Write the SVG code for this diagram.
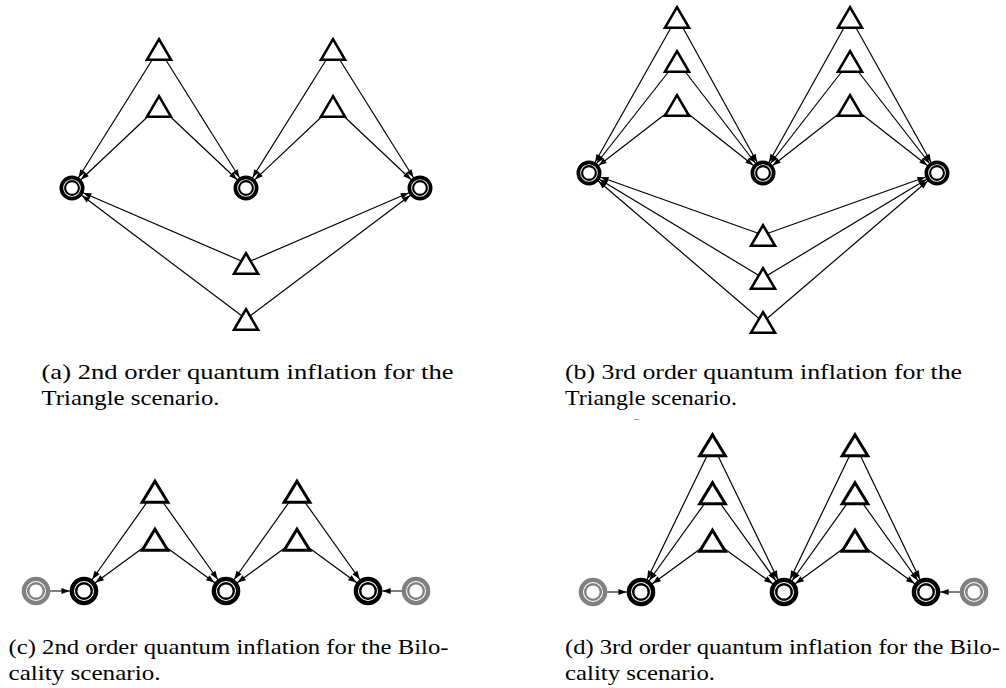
<svg xmlns="http://www.w3.org/2000/svg" width="1006" height="688" viewBox="0 0 1006 688">
<style>
  .edge{stroke:#000;stroke-width:1.2;fill:none}
  .es{marker-end:url(#arr-s)}
  .el{marker-end:url(#arr-l)}
  .cap{font-family:"Liberation Serif","DejaVu Serif",serif;font-size:22px;fill:#000}
  .blk{color:#000}
  .gry{color:#808080}
</style>
<defs>
  <!-- arrowheads stop at the outer edge of the target ring (line ends at ring centre) -->
  <marker id="arr-s" markerUnits="userSpaceOnUse" markerWidth="9" markerHeight="6" refX="20.3" refY="3" orient="auto" overflow="visible">
    <path d="M0,0.1 L7.8,3 L0,5.9 Z" fill="#000"/>
  </marker>
  <marker id="arr-l" markerUnits="userSpaceOnUse" markerWidth="9" markerHeight="7" refX="22.6" refY="3" orient="auto" overflow="visible">
    <path d="M0,-0.1 L8.3,3 L0,6.1 Z" fill="#000"/>
  </marker>
  <path id="tri-s" d="M0,-9.8 L12,10.7 L-12,10.7 Z" fill="#fff" stroke="#000" stroke-width="2.6"/>
  <path id="tri-l" d="M0,-9.8 L12.8,11.2 L-12.8,11.2 Z" fill="#fff" stroke="#000" stroke-width="3"/>
  <g id="dc-s">
    <circle r="10.65" fill="#fff" stroke="currentColor" stroke-width="3.7"/>
    <circle r="6.9" fill="none" stroke="currentColor" stroke-width="2.1"/>
  </g>
  <g id="dc-l">
    <circle r="12.15" fill="#fff" stroke="currentColor" stroke-width="4.3"/>
    <circle r="7.8" fill="none" stroke="currentColor" stroke-width="2.4"/>
  </g>
</defs>

<rect width="1006" height="688" fill="#fff"/>

<!-- connectors -->
<g id="connectors">
  <!-- (a) -->
  <line class="edge es" x1="159" y1="49" x2="72" y2="188"/>
  <line class="edge es" x1="159" y1="49" x2="246" y2="188"/>
  <line class="edge es" x1="159" y1="106" x2="72" y2="188"/>
  <line class="edge es" x1="159" y1="106" x2="246" y2="188"/>
  <line class="edge es" x1="333" y1="49" x2="246" y2="188"/>
  <line class="edge es" x1="333" y1="49" x2="420" y2="188"/>
  <line class="edge es" x1="333" y1="106" x2="246" y2="188"/>
  <line class="edge es" x1="333" y1="106" x2="420" y2="188"/>
  <line class="edge es" x1="246" y1="263" x2="72" y2="188"/>
  <line class="edge es" x1="246" y1="263" x2="420" y2="188"/>
  <line class="edge es" x1="246" y1="319" x2="72" y2="188"/>
  <line class="edge es" x1="246" y1="319" x2="420" y2="188"/>
  <!-- (b) -->
  <line class="edge es" x1="677" y1="17" x2="589" y2="173"/>
  <line class="edge es" x1="677" y1="17" x2="763" y2="173"/>
  <line class="edge es" x1="677" y1="61" x2="589" y2="173"/>
  <line class="edge es" x1="677" y1="61" x2="763" y2="173"/>
  <line class="edge es" x1="677" y1="105" x2="589" y2="173"/>
  <line class="edge es" x1="677" y1="105" x2="763" y2="173"/>
  <line class="edge es" x1="850" y1="17" x2="763" y2="173"/>
  <line class="edge es" x1="850" y1="17" x2="937" y2="173"/>
  <line class="edge es" x1="850" y1="61" x2="763" y2="173"/>
  <line class="edge es" x1="850" y1="61" x2="937" y2="173"/>
  <line class="edge es" x1="850" y1="105" x2="763" y2="173"/>
  <line class="edge es" x1="850" y1="105" x2="937" y2="173"/>
  <line class="edge es" x1="763" y1="235" x2="589" y2="173"/>
  <line class="edge es" x1="763" y1="235" x2="937" y2="173"/>
  <line class="edge es" x1="763" y1="278" x2="589" y2="173"/>
  <line class="edge es" x1="763" y1="278" x2="937" y2="173"/>
  <line class="edge es" x1="763" y1="322" x2="589" y2="173"/>
  <line class="edge es" x1="763" y1="322" x2="937" y2="173"/>
  <!-- (c) -->
  <line class="edge el" x1="155" y1="491" x2="84" y2="591"/>
  <line class="edge el" x1="155" y1="491" x2="226" y2="591"/>
  <line class="edge el" x1="155" y1="539" x2="84" y2="591"/>
  <line class="edge el" x1="155" y1="539" x2="226" y2="591"/>
  <line class="edge el" x1="297" y1="491" x2="226" y2="591"/>
  <line class="edge el" x1="297" y1="491" x2="368" y2="591"/>
  <line class="edge el" x1="297" y1="539" x2="226" y2="591"/>
  <line class="edge el" x1="297" y1="539" x2="368" y2="591"/>
  <line class="edge el" x1="36" y1="591" x2="84" y2="591"/>
  <line class="edge el" x1="416" y1="591" x2="368" y2="591"/>
  <!-- (d) -->
  <line class="edge el" x1="712.5" y1="444.5" x2="641" y2="592"/>
  <line class="edge el" x1="712.5" y1="444.5" x2="784" y2="592"/>
  <line class="edge el" x1="712.5" y1="492.5" x2="641" y2="592"/>
  <line class="edge el" x1="712.5" y1="492.5" x2="784" y2="592"/>
  <line class="edge el" x1="712.5" y1="540" x2="641" y2="592"/>
  <line class="edge el" x1="712.5" y1="540" x2="784" y2="592"/>
  <line class="edge el" x1="855" y1="444.5" x2="784" y2="592"/>
  <line class="edge el" x1="855" y1="444.5" x2="926" y2="592"/>
  <line class="edge el" x1="855" y1="492.5" x2="784" y2="592"/>
  <line class="edge el" x1="855" y1="492.5" x2="926" y2="592"/>
  <line class="edge el" x1="855" y1="540" x2="784" y2="592"/>
  <line class="edge el" x1="855" y1="540" x2="926" y2="592"/>
  <line class="edge el" x1="593" y1="592" x2="641" y2="592"/>
  <line class="edge el" x1="974" y1="592" x2="926" y2="592"/>
</g>

<!-- (a) nodes -->
<g id="a-src-1"><use href="#tri-s" x="159" y="49"/></g>
<g id="a-src-2"><use href="#tri-s" x="159" y="106"/></g>
<g id="a-src-3"><use href="#tri-s" x="333" y="49"/></g>
<g id="a-src-4"><use href="#tri-s" x="333" y="106"/></g>
<g id="a-src-5"><use href="#tri-s" x="246" y="263"/></g>
<g id="a-src-6"><use href="#tri-s" x="246" y="319"/></g>
<g id="a-party-1" class="blk"><use href="#dc-s" x="72" y="188"/></g>
<g id="a-party-2" class="blk"><use href="#dc-s" x="246" y="188"/></g>
<g id="a-party-3" class="blk"><use href="#dc-s" x="420" y="188"/></g>

<!-- (b) nodes -->
<g id="b-src-1"><use href="#tri-s" x="677" y="17"/></g>
<g id="b-src-2"><use href="#tri-s" x="677" y="61"/></g>
<g id="b-src-3"><use href="#tri-s" x="677" y="105"/></g>
<g id="b-src-4"><use href="#tri-s" x="850" y="17"/></g>
<g id="b-src-5"><use href="#tri-s" x="850" y="61"/></g>
<g id="b-src-6"><use href="#tri-s" x="850" y="105"/></g>
<g id="b-src-7"><use href="#tri-s" x="763" y="235"/></g>
<g id="b-src-8"><use href="#tri-s" x="763" y="278"/></g>
<g id="b-src-9"><use href="#tri-s" x="763" y="322"/></g>
<g id="b-party-1" class="blk"><use href="#dc-s" x="589" y="173"/></g>
<g id="b-party-2" class="blk"><use href="#dc-s" x="763" y="173"/></g>
<g id="b-party-3" class="blk"><use href="#dc-s" x="937" y="173"/></g>

<!-- (c) nodes -->
<g id="c-src-1"><use href="#tri-l" x="155" y="491"/></g>
<g id="c-src-2"><use href="#tri-l" x="155" y="539"/></g>
<g id="c-src-3"><use href="#tri-l" x="297" y="491"/></g>
<g id="c-src-4"><use href="#tri-l" x="297" y="539"/></g>
<g id="c-in-1" class="gry"><use href="#dc-l" x="36" y="591"/></g>
<g id="c-in-2" class="gry"><use href="#dc-l" x="416" y="591"/></g>
<g id="c-party-1" class="blk"><use href="#dc-l" x="84" y="591"/></g>
<g id="c-party-2" class="blk"><use href="#dc-l" x="226" y="591"/></g>
<g id="c-party-3" class="blk"><use href="#dc-l" x="368" y="591"/></g>

<!-- (d) nodes -->
<g id="d-src-1"><use href="#tri-l" x="712.5" y="444.5"/></g>
<g id="d-src-2"><use href="#tri-l" x="712.5" y="492.5"/></g>
<g id="d-src-3"><use href="#tri-l" x="712.5" y="540"/></g>
<g id="d-src-4"><use href="#tri-l" x="855" y="444.5"/></g>
<g id="d-src-5"><use href="#tri-l" x="855" y="492.5"/></g>
<g id="d-src-6"><use href="#tri-l" x="855" y="540"/></g>
<g id="d-in-1" class="gry"><use href="#dc-l" x="593" y="592"/></g>
<g id="d-in-2" class="gry"><use href="#dc-l" x="974" y="592"/></g>
<g id="d-party-1" class="blk"><use href="#dc-l" x="641" y="592"/></g>
<g id="d-party-2" class="blk"><use href="#dc-l" x="784" y="592"/></g>
<g id="d-party-3" class="blk"><use href="#dc-l" x="926" y="592"/></g>

<!-- captions -->
<g id="captions" class="cap">
  <text x="41.5" y="379" textLength="412" lengthAdjust="spacingAndGlyphs">(a) 2nd order quantum inflation for the</text>
  <text x="41.5" y="405" textLength="178" lengthAdjust="spacingAndGlyphs">Triangle scenario.</text>
  <text x="565" y="379" textLength="397" lengthAdjust="spacingAndGlyphs">(b) 3rd order quantum inflation for the</text>
  <text x="565" y="405" textLength="172" lengthAdjust="spacingAndGlyphs">Triangle scenario.</text>
  <text x="8.5" y="654" textLength="440" lengthAdjust="spacingAndGlyphs">(c) 2nd order quantum inflation for the Bilo-</text>
  <text x="8.5" y="680" textLength="152" lengthAdjust="spacingAndGlyphs">cality scenario.</text>
  <text x="565" y="654" textLength="435" lengthAdjust="spacingAndGlyphs">(d) 3rd order quantum inflation for the Bilo-</text>
  <text x="565" y="680" textLength="150" lengthAdjust="spacingAndGlyphs">cality scenario.</text>
</g>
<line x1="634" y1="419.5" x2="639" y2="419.5" stroke="#999" stroke-width="1"/>
</svg>
